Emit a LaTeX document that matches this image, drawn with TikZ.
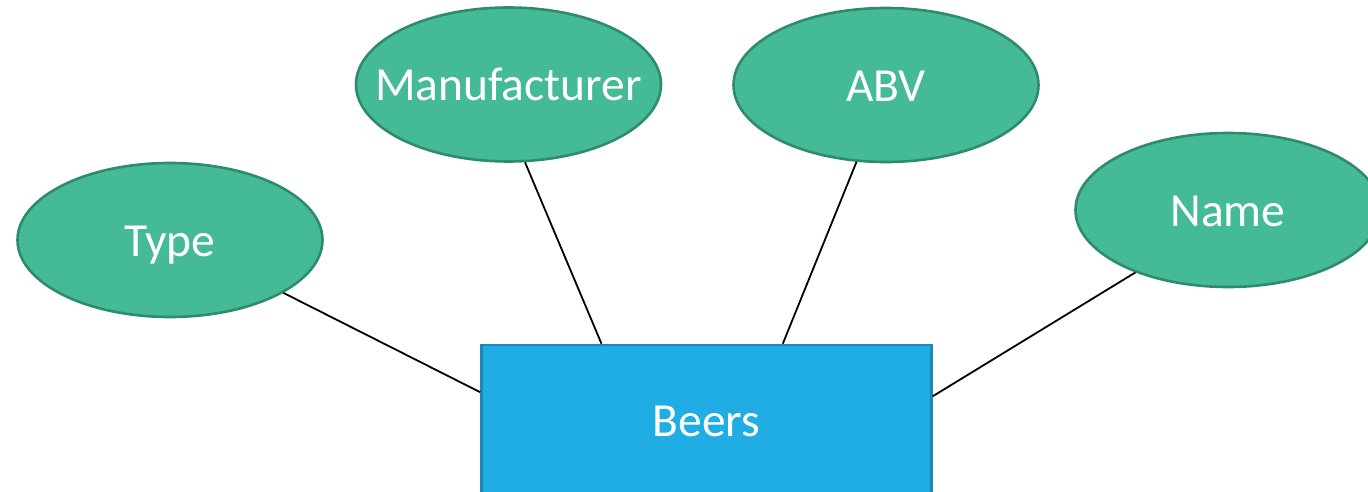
\documentclass[tikz,border=0pt]{standalone}
\usepackage{fontspec}
\setmainfont{Carlito}
\usetikzlibrary{shapes.geometric}
\definecolor{attrfill}{RGB}{68,186,151}
\definecolor{attrline}{RGB}{46,139,110}
\definecolor{entfill}{RGB}{31,173,227}
\definecolor{entline}{RGB}{26,136,184}
\newcommand{\erlabel}[1]{\makebox[0pt][c]{#1}}
\tikzset{
  attr/.style={ellipse, draw=attrline, fill=attrfill, line width=2.6pt,
    minimum width=305pt, minimum height=154pt, inner sep=0pt,
    text=white, font=\fontsize{47.5}{50}\selectfont,
    text height=33pt, text depth=0pt},
  entity/.style={rectangle, draw=entline, fill=entfill, line width=2.6pt,
    minimum width=450pt, minimum height=150pt, inner sep=0pt,
    text=white, font=\fontsize{47.5}{50}\selectfont,
    text height=33pt, text depth=0pt},
  link/.style={draw=black, line width=1.8pt}
}
\begin{document}
\begin{tikzpicture}[x=1pt,y=-1pt]
  \useasboundingbox (0,0) rectangle (1368,492);
  \clip (0,0) rectangle (1368,492);
  \fill[white] (0,0) rectangle (1368,492);

  % entity
  \node[entity] (beers) at (706.5,420) {\erlabel{Beers}};

  % attributes
  \node[attr] (type) at (170,240) {\erlabel{Type}};
  \node[attr] (manu) at (508.5,84.5) {\erlabel{Manufacturer}};
  \node[attr] (abv)  at (886,85) {\erlabel{ABV}};
  \node[attr] (name) at (1228,210) {\erlabel{Name}};

  % connectors from each attribute to the entity
  \draw[link] (type.-25.1) -- (beers.173.2);
  \draw[link] (manu.-78.1) -- (beers.144.1);
  \draw[link] (abv.-111.3) -- (beers.45.6);
  \draw[link] (name.-146.3) -- (beers.6.1);
\end{tikzpicture}
\end{document}
